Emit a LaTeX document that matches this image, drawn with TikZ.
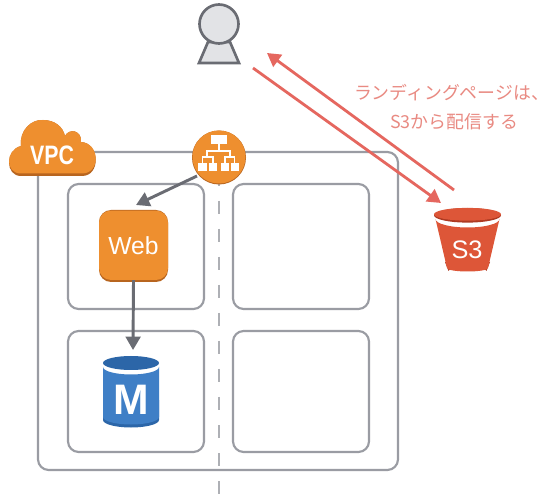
\documentclass[tikz,border=0pt]{standalone}
\usepackage{fontspec}
\setmainfont{Liberation Sans}
\newfontfamily\jpfont{Noto Sans CJK JP}
\usetikzlibrary{arrows.meta}
\definecolor{boxgray}{HTML}{9A9CA3}
\definecolor{darkgray}{HTML}{6A6C73}
\definecolor{awsorange}{HTML}{EE8F2F}
\definecolor{awsorangedark}{HTML}{B8651F}
\definecolor{redline}{HTML}{E5675F}
\definecolor{redtext}{HTML}{E98A82}
\definecolor{s3red}{HTML}{DD5638}
\definecolor{s3dark}{HTML}{AE3A22}
\definecolor{dbblue}{HTML}{3F7FC6}
\definecolor{dbdark}{HTML}{2C66A8}
\definecolor{usergray}{HTML}{E2E3E6}
\tikzset{
  x=0.75pt,y=-0.75pt,
  subnetbox/.style={draw=boxgray,line width=1.6pt,rounded corners=8pt,fill=white},
  flowgray/.style={draw=darkgray,line width=2.2pt,-{Triangle[length=10pt,width=11pt]}},
  flowred/.style={draw=redline,line width=2.1pt,-{Triangle[length=10pt,width=11pt]}},
}
\begin{document}
\begin{tikzpicture}
\useasboundingbox (0,0) rectangle (551,503);
\fill[white] (0,0) rectangle (551,503);
% VPC frame and subnets
\draw[subnetbox] (38,152) rectangle (398,470);
\draw[subnetbox] (68,184) rectangle (204,309);
\draw[subnetbox] (233,184) rectangle (369,309);
\draw[subnetbox] (68,331) rectangle (204,452);
\draw[subnetbox] (233,331) rectangle (369,452);
\draw[draw=boxgray!80,line width=1.4pt,dash pattern=on 9.5pt off 11.5pt] (219,173) -- (219,494);
% VPC cloud
\fill[awsorangedark] (21,176) .. controls (5,176) and (5,150) .. (21,146)
  .. controls (19,130) and (32,119) .. (43,120)
  .. controls (55,120) and (63,127) .. (65,136)
  .. controls (69,128) and (82,130) .. (81,142)
  .. controls (100,143) and (101,176) .. (82,176) -- cycle;
\fill[awsorange] (21,173.5) .. controls (5,173.5) and (5,150) .. (21,146)
  .. controls (19,130) and (32,119) .. (43,120)
  .. controls (55,120) and (63,127) .. (65,136)
  .. controls (69,128) and (82,130) .. (81,142)
  .. controls (100,143) and (101,173.5) .. (82,173.5) -- cycle;
\node[text=white,font=\fontsize{20}{20}\selectfont\bfseries,xscale=0.8,inner sep=0pt] (vpc) at (52,155) {VPC};
% Load balancer
\fill[awsorangedark] (219,157.5) circle[radius=27];
\fill[awsorange] (219,157) circle[radius=26.5];
\node[circle,minimum size=40pt,inner sep=0pt] (lb) at (219,157) {};
\draw[white,line width=0.9pt] (219,144) -- (219,151)
  (207,157) -- (207,151) -- (230,151) -- (230,157)
  (202.5,163) -- (202.5,157) -- (213,157) -- (213,163)
  (225,163) -- (225,157) -- (234.5,157) -- (234.5,163);
\fill[white] (210.5,135) rectangle (226.5,144.5);
\fill[white] (198,163) rectangle (207,171);
\fill[white] (209,163) rectangle (217,171);
\fill[white] (221,163) rectangle (229,171);
\fill[white] (231,163) rectangle (238.5,171);
% Web
\fill[awsorangedark,rounded corners=9pt] (99,210) rectangle (168,282);
\node[fill=awsorange,rounded corners=9pt,minimum width=51.75pt,minimum height=52pt,inner sep=0pt,text=white,font=\fontsize{18.5}{18.5}\selectfont] (web) at (133.5,245.3) {Web};
% Database
\coordinate (dbtop) at (133,350);
\fill[dbdark] (103,400) -- (103,420) arc[start angle=180,end angle=360,x radius=28,y radius=-7.5] -- (159,400) -- cycle;
\fill[dbblue] (103,367) arc[start angle=180,end angle=360,x radius=28,y radius=-7.5] -- (159,417) arc[start angle=360,end angle=180,x radius=28,y radius=-7.5] -- cycle;
\fill[dbdark] (131,363) ellipse[x radius=28,y radius=7];
\node[text=white,font=\fontsize{32}{32}\selectfont\bfseries,inner sep=0pt] (db) at (131.5,399.5) {M};
% S3
\fill[s3dark] (445,262) -- (490,262) -- (486.5,271) arc[start angle=0,end angle=180,x radius=19,y radius=-4] -- cycle;
\fill[s3red] (435.5,219) arc[start angle=180,end angle=360,x radius=32,y radius=-8.5] -- (488,268) arc[start angle=360,end angle=180,x radius=20.5,y radius=-3.5] -- cycle;
\fill[s3dark] (467.5,215.3) ellipse[x radius=33.5,y radius=7.3];
\fill[s3red] (467.5,214.3) ellipse[x radius=33.5,y radius=6.4];
\node[text=white,font=\fontsize{19}{19}\selectfont,inner sep=0pt] (s3) at (467,250) {S3};
\coordinate (s3in) at (441,203);
\coordinate (s3out) at (454,190);
% User
\draw[darkgray,line width=2pt,fill=usergray,line join=miter] (208,42) -- (199,63) -- (239,63) -- (230,42) -- cycle;
\draw[darkgray,line width=2pt,fill=usergray] (219,24) circle[radius=19.5];
\coordinate (userin) at (267,53);
\coordinate (userout) at (253,68);
% Connectors
\coordinate (lbout) at (197,176);
\coordinate (webin) at (136,205);
\draw[flowgray] (lbout) -- (webin);
\draw[flowgray] (web.south) -- (dbtop);
\draw[flowred] (s3out) -- (userin);
\draw[flowred] (userout) -- (s3in);
% Label
\node[text=redtext,align=center,font=\jpfont\fontsize{13.4}{21.75}\selectfont,inner sep=0pt] (label) at (451.5,107.5) {ランディングページは、\\\hspace*{4pt}S3から配信する};
\end{tikzpicture}
\end{document}
